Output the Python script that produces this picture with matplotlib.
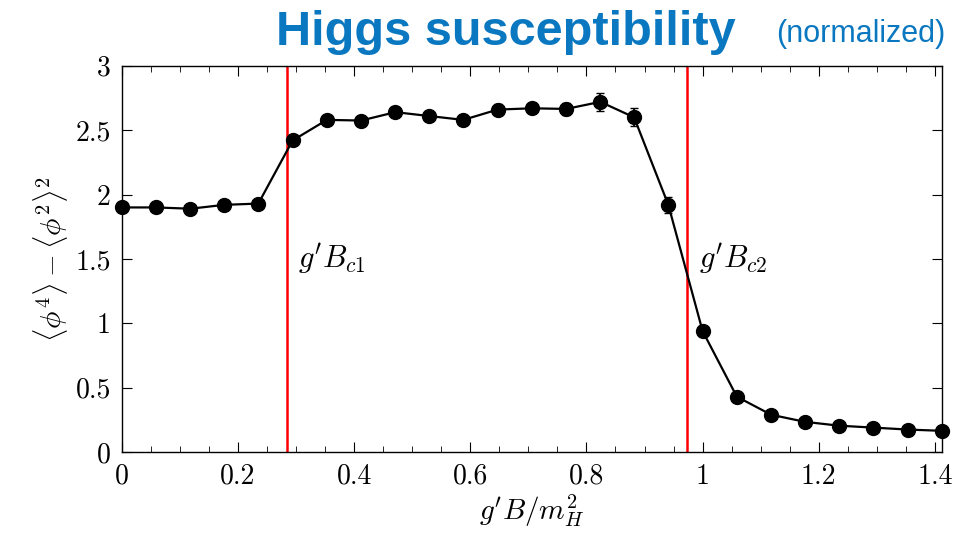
import numpy as np
import matplotlib as mpl
mpl.use('Agg')
import matplotlib.pyplot as plt
from matplotlib.ticker import MultipleLocator

mpl.rcParams['mathtext.fontset'] = 'cm'
mpl.rcParams['font.family'] = 'serif'
mpl.rcParams['font.serif'] = ['cmr10']
mpl.rcParams['axes.formatter.use_mathtext'] = True

# data
gB = [0.0, 0.059, 0.118, 0.176, 0.235, 0.294, 0.353, 0.412, 0.471, 0.529,
      0.588, 0.647, 0.706, 0.765, 0.824, 0.882, 0.941, 1.0, 1.059, 1.118,
      1.176, 1.235, 1.294, 1.353, 1.412]
chi = [1.90, 1.90, 1.89, 1.92, 1.93, 2.42, 2.58, 2.575, 2.64, 2.61,
       2.58, 2.66, 2.67, 2.665, 2.72, 2.60, 1.92, 0.94, 0.43, 0.29,
       0.235, 0.205, 0.19, 0.175, 0.165]
err = [0.02, 0.02, 0.02, 0.02, 0.02, 0.03, 0.03, 0.03, 0.04, 0.04,
       0.04, 0.04, 0.04, 0.05, 0.07, 0.07, 0.06, 0.03, 0.02, 0.02,
       0.02, 0.02, 0.02, 0.02, 0.02]
xticks = [0, 0.2, 0.4, 0.6, 0.8, 1.0, 1.2, 1.4]
xtick_labels = ['0', '0.2', '0.4', '0.6', '0.8', '1', '1.2', '1.4']
yticks = [0, 0.5, 1, 1.5, 2, 2.5, 3]
ytick_labels = ['0', '0.5', '1', '1.5', '2', '2.5', '3']
Bc1 = 0.284
Bc2 = 0.974

fig = plt.figure(figsize=(9.75, 5.35), dpi=100)
ax = fig.add_axes([0.125, 0.155, 0.841, 0.722])

ax.axvline(Bc1, color='#ff0000', lw=1.8, zorder=1)
ax.axvline(Bc2, color='#ff0000', lw=1.8, zorder=1)
ax.errorbar(gB, chi, yerr=err, fmt='o-', color='black', ms=10, lw=1.6,
            capsize=3, elinewidth=1.3, zorder=3, clip_on=False)

ax.text(Bc1 + 0.02, 1.5, r"$g'B_{c1}$", fontsize=22, va='center')
ax.text(Bc2 + 0.02, 1.5, r"$g'B_{c2}$", fontsize=22, va='center')

ax.set_xlim(0, 1.412)
ax.set_ylim(0, 3)
ax.set_xticks(xticks)
ax.set_xticklabels(xtick_labels)
ax.xaxis.set_minor_locator(MultipleLocator(0.05))
ax.set_yticks(yticks)
ax.set_yticklabels(ytick_labels)
ax.tick_params(which='both', direction='in', top=True, right=True,
               labelsize=20, pad=8)
ax.tick_params(which='major', length=7)
ax.tick_params(which='minor', length=4)
for s in ax.spines.values():
    s.set_linewidth(1.0)

ax.set_xlabel(r"$g'B/m_H^2$", fontsize=21, labelpad=2)
ax.set_ylabel(r"$\langle\phi^4\rangle-\langle\phi^2\rangle^2$", fontsize=21, labelpad=4)

fig.text(0.755, 0.916, 'Higgs susceptibility', fontsize=35, fontweight='bold',
         color='#0a78c0', family='Liberation Sans', ha='right', va='baseline')
fig.text(0.97, 0.922, '(normalized)', fontsize=22, color='#0a78c0',
         family='Liberation Sans', ha='right', va='baseline')

fig.savefig('out.png', dpi=100)
